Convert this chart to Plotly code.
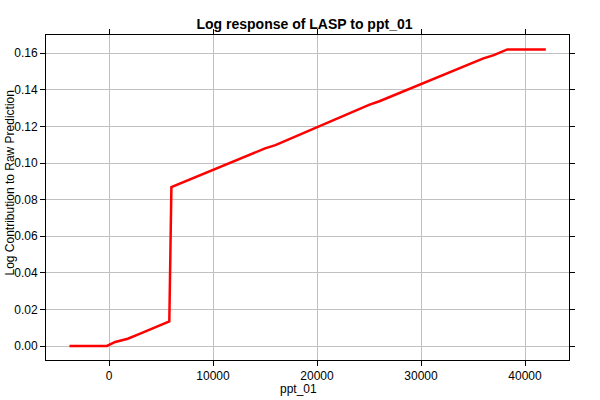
import plotly.graph_objects as go

ppt_01 = [-3800, -200, 600, 1800, 3000, 4500, 5800, 6000, 10000, 15000, 16000, 20000, 25000, 26000, 30000, 36000, 37000, 38300, 42000]
log_contrib = [0.0, 0.0, 0.0022, 0.0040, 0.0068, 0.0102, 0.0135, 0.0868, 0.0962, 0.1080, 0.1098, 0.1196, 0.1318, 0.1338, 0.1430, 0.1572, 0.1590, 0.1621, 0.1621]

FONT = "Liberation Sans, Arial, sans-serif"

fig = go.Figure()
fig.add_trace(go.Scatter(
    x=ppt_01, y=log_contrib, mode="lines",
    line=dict(color="#ff0000", width=2.5),
    showlegend=False,
))

axis_common = dict(
    showline=True, linecolor="black", linewidth=1, mirror="ticks",
    ticks="outside", ticklen=5, tickcolor="black",
    showgrid=True, gridcolor="#c0c0c0", gridwidth=1, zeroline=False,
    automargin=False,
    tickfont=dict(family=FONT, size=12, color="black"),
)

fig.update_layout(
    width=600, height=400,
    margin=dict(l=46, r=31, t=35, b=40),
    paper_bgcolor="white", plot_bgcolor="white",
    title=dict(text="<b>Log response of LASP to ppt_01</b>", x=0.5075, xanchor="center",
               y=0.939, yanchor="middle",
               font=dict(family=FONT, size=14, color="black")),
    xaxis=dict(axis_common, range=[-6058, 44230], tickvals=[0, 10000, 20000, 30000, 40000],
               tickformat="d"),
    yaxis=dict(axis_common, range=[-0.00765, 0.1700], tickvals=[0, 0.02, 0.04, 0.06, 0.08, 0.10, 0.12, 0.14, 0.16],
               tickformat=".2f"),
    annotations=[
        dict(text="ppt_01", xref="paper", yref="paper", x=0.5, y=0, xshift=-9.5, yshift=-29,
             xanchor="center", yanchor="middle", showarrow=False,
             font=dict(family=FONT, size=12, color="black")),
        dict(text="Log Contribution to Raw Prediction", xref="paper", yref="paper", x=0, y=0.5,
             xshift=-37, yshift=14, textangle=-90, xanchor="center", yanchor="middle", showarrow=False,
             font=dict(family=FONT, size=12, color="black")),
    ],
)

fig.write_html("out.html", config={"displayModeBar": False},
               post_script="document.body.style.margin='0';")
